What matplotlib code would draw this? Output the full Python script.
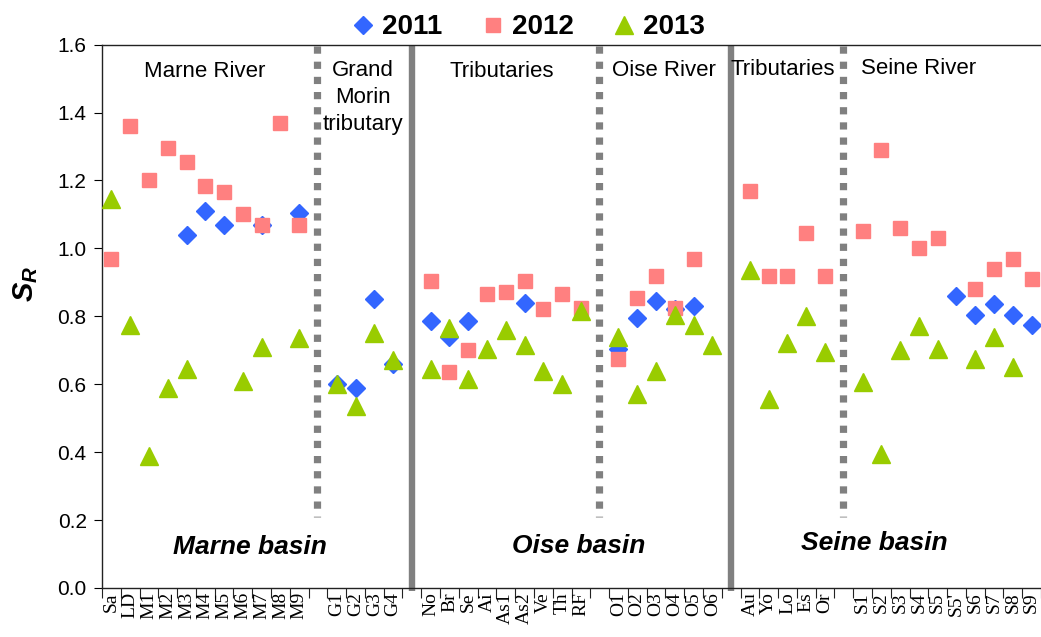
import matplotlib
matplotlib.use('Agg')
import matplotlib.pyplot as plt
from matplotlib.lines import Line2D
import numpy as np

nan = np.nan

# Sampling sites, blank entries are the gaps between groups
sites = ['Sa', 'LD', 'M1', 'M2', 'M3', 'M4', 'M5', 'M6', 'M7', 'M8', 'M9', '',
         'G1', 'G2', 'G3', 'G4', '',
         'No', 'Br', 'Se', 'Ai', 'As1', 'As2', 'Ve', 'Th', 'RF', '',
         'O1', 'O2', 'O3', 'O4', 'O5', 'O6', '',
         'Au', 'Yo', 'Lo', 'Es', 'Or', '',
         'S1', 'S2', 'S3', 'S4', 'S5', "S5'", 'S6', 'S7', 'S8', 'S9']

sr_2011 = [nan, nan, nan, nan, 1.04, 1.11, 1.07, nan, 1.07, nan, 1.105, nan,
           0.60, 0.59, 0.85, 0.66, nan,
           0.785, 0.74, 0.785, nan, nan, 0.84, nan, nan, nan, nan,
           0.705, 0.795, 0.845, 0.82, 0.83, nan, nan,
           nan, nan, nan, nan, nan, nan,
           nan, nan, nan, nan, nan, 0.86, 0.805, 0.835, 0.805, 0.775]

sr_2012 = [0.97, 1.36, 1.20, 1.295, 1.255, 1.185, 1.165, 1.10, 1.07, 1.37, 1.07, nan,
           nan, nan, nan, nan, nan,
           0.905, 0.635, 0.70, 0.865, 0.87, 0.905, 0.82, 0.865, 0.825, nan,
           0.675, 0.855, 0.92, 0.825, 0.97, nan, nan,
           1.17, 0.92, 0.92, 1.045, 0.92, nan,
           1.05, 1.29, 1.06, 1.00, 1.03, nan, 0.88, 0.94, 0.97, 0.91]

sr_2013 = [1.145, 0.775, 0.39, 0.59, 0.645, nan, nan, 0.61, 0.71, nan, 0.735, nan,
           0.60, 0.535, 0.75, 0.67, nan,
           0.645, 0.765, 0.615, 0.705, 0.76, 0.715, 0.64, 0.60, 0.815, nan,
           0.74, 0.57, 0.64, 0.805, 0.775, 0.715, nan,
           0.935, 0.555, 0.72, 0.80, 0.695, nan,
           0.605, 0.395, 0.70, 0.77, 0.705, nan, 0.675, 0.74, 0.65, nan]

years = ['2011', '2012', '2013']

# gap slots between groups
dotted_gaps = [11, 26, 39]
solid_gaps = [16, 33]


def main():

	plt.rcParams['font.family'] = ['Liberation Sans', 'DejaVu Sans']
	plt.rcParams['mathtext.fontset'] = 'custom'
	plt.rcParams['mathtext.it'] = 'Liberation Sans:bold:italic'
	plt.rcParams['mathtext.rm'] = 'Liberation Sans:bold'

	fig = plt.figure(figsize=(10.41, 6.37), dpi=100)
	ax = fig.add_axes([0.098, 0.077, 0.902, 0.853])

	x = np.arange(len(sites)) + 0.5

	styles = [dict(marker='D', color='#3366FF', ms=9.6),
	          dict(marker='s', color='#FF8080', ms=10.5),
	          dict(marker='^', color='#99CC00', ms=13)]

	handles = []
	for vals, st, year in zip([sr_2011, sr_2012, sr_2013], styles, years):
		ax.plot(x, vals, linestyle='none', marker=st['marker'], ms=st['ms'],
		        color=st['color'], mec=st['color'], zorder=3)
		handles.append(Line2D([], [], linestyle='none', marker=st['marker'],
		                      ms=st['ms'] * 0.95, color=st['color'], label=year))

	# group separators
	for g in solid_gaps:
		ax.plot([g + 0.5, g + 0.5], [-0.01, 1.6], color='#808080', lw=4.6,
		        solid_capstyle='butt', clip_on=False, zorder=2)
	for g in dotted_gaps:
		ax.plot([g + 0.45, g + 0.45], [1.595, 0.21], color='#808080', lw=5.2,
		        linestyle=(0, (1.0, 1.1)), dash_capstyle='butt', zorder=2)

	ax.set_xlim(0, len(sites))
	ax.set_ylim(0, 1.6)
	ax.set_yticks(np.arange(0, 1.61, 0.2))
	ax.set_yticklabels(['{:.1f}'.format(v) for v in np.arange(0, 1.61, 0.2)], fontsize=15)
	ax.set_xticks(np.arange(0, len(sites) + 1))
	ax.set_xticklabels([])
	ax.set_xticks(x, minor=True)
	ax.set_xticklabels(sites, minor=True, rotation=90, fontsize=14,
	                   family='Liberation Serif', va='top')
	ax.tick_params(axis='x', which='minor', length=0, pad=3)
	ax.tick_params(axis='x', which='major', length=7, direction='out', color='#222222')
	ax.tick_params(axis='y', length=6, direction='out', pad=5)

	ax.spines['right'].set_visible(False)
	for s in ['top', 'bottom', 'left']:
		ax.spines[s].set_color('#222222')
		ax.spines[s].set_linewidth(1.0)

	ax.set_ylabel('$S_R$', fontsize=21)
	ax.yaxis.set_label_coords(-0.066, 0.56)

	# section names
	kw = dict(ha='center', va='center', fontsize=16)
	ax.text(5.47, 1.52, 'Marne River', **kw)
	ax.text(13.9, 1.444, 'Grand\nMorin\ntributary', linespacing=1.4, **kw)
	ax.text(21.3, 1.52, 'Tributaries', **kw)
	ax.text(29.9, 1.525, 'Oise River', **kw)
	ax.text(36.25, 1.527, 'Tributaries', **kw)
	ax.text(43.5, 1.53, 'Seine River', **kw)

	bkw = dict(ha='center', va='center', fontsize=19, weight='bold', style='italic')
	ax.text(7.86, 0.121, 'Marne basin', **bkw)
	ax.text(25.4, 0.124, 'Oise basin', **bkw)
	ax.text(41.1, 0.133, 'Seine basin', **bkw)

	fig.legend(handles=handles, loc='center', bbox_to_anchor=(0.507, 0.957), ncol=3,
	           frameon=False, prop=dict(size=20, weight='bold'), handlelength=0.9,
	           handletextpad=0.25, columnspacing=1.35, borderaxespad=0)

	fig.savefig('out.png', dpi=100)


if __name__ == '__main__':
	main()
